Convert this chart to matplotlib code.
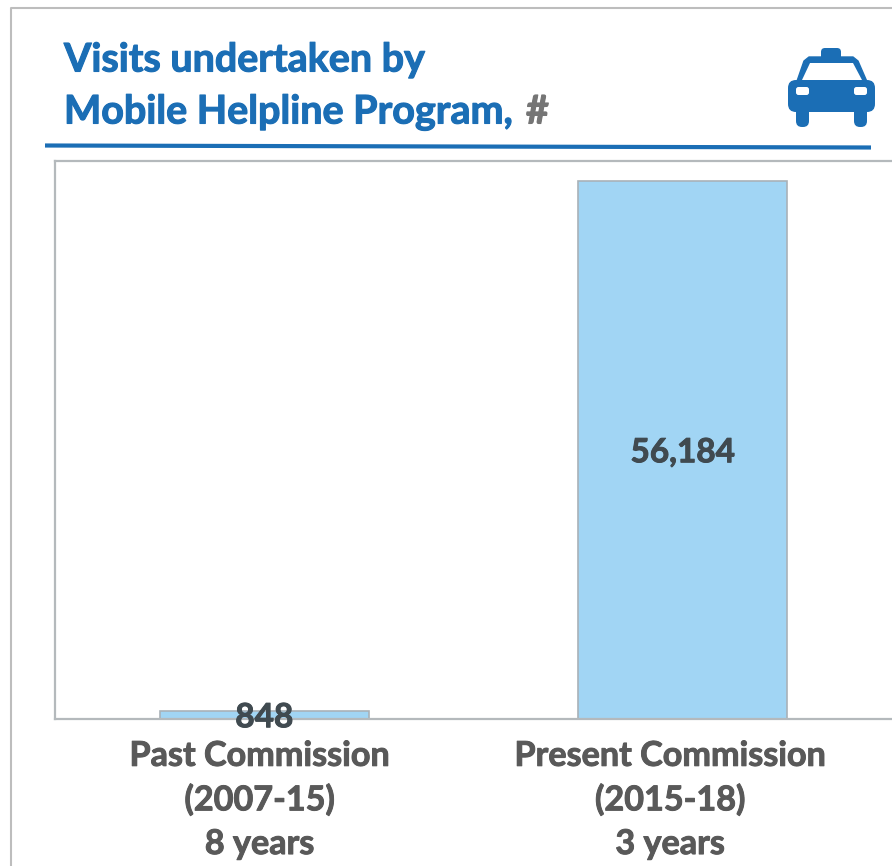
import matplotlib
matplotlib.use("Agg")
import matplotlib.pyplot as plt
import matplotlib.patheffects as pe
from matplotlib.patches import FancyBboxPatch, Polygon

categories = ["Past Commission\n(2007-15)\n8 years", "Present Commission\n(2015-18)\n3 years"]
values = [848, 56184]
value_labels = ["848", "56,184"]

BLUE = "#1B6EB5"
BAR = "#A1D5F4"
EDGE = "#A9B2B8"
GREY = "#595959"
FONT = "Lato"

def thick(color, w):
    return [pe.withStroke(linewidth=w, foreground=color)]

fig = plt.figure(figsize=(8.92, 8.66), dpi=100)

# page overlay in pixel coordinates (border, title, rule, icon)
pg = fig.add_axes([0, 0, 1, 1], zorder=0)
pg.set_xlim(0, 892); pg.set_ylim(866, 0); pg.axis("off")
pg.plot([11, 11, 892], [866, 8, 8], color="#BDBDBD", lw=1.5)
pg.plot([45, 871], [145.5, 147.5], color=BLUE, lw=3, solid_capstyle="butt")
pg.text(64, 60, "Visits undertaken by", color=BLUE, fontsize=28.4, fontweight="bold", family=FONT,
        va="center", ha="left", path_effects=thick(BLUE, 0.8))
pg.text(64, 112, "Mobile Helpline Program,", color=BLUE, fontsize=28.4, fontweight="bold", family=FONT,
        va="center", ha="left", path_effects=thick(BLUE, 0.8))
pg.text(526, 112, "#", color="#757575", fontsize=28.4, fontweight="bold", family=FONT,
        va="center", ha="left", path_effects=thick("#757575", 0.8))

def rr(x, y, w, h, r, color, z=3):
    pg.add_patch(FancyBboxPatch((x + r, y + r), w - 2 * r, h - 2 * r,
                                boxstyle=f"round,pad={r},rounding_size={r}",
                                fc=color, ec="none", zorder=z))
# taxi icon
rr(821, 48, 20, 16, 4, BLUE)
pg.add_patch(Polygon([[796, 84], [804, 61], [809, 57], [853, 57], [858, 61], [868, 84]],
                     closed=True, fc=BLUE, ec=BLUE, lw=1, joinstyle="round", zorder=3))
pg.add_patch(Polygon([[802, 80], [810, 63], [853, 63], [862, 80]], closed=True, fc="white", ec="none", zorder=4))
rr(788, 80, 87, 32, 8, BLUE)
rr(796, 104, 13, 23, 6, BLUE)
rr(854, 104, 13, 23, 6, BLUE)
rr(796, 87, 13, 8, 2.5, "white", 5)
rr(854, 87, 13, 8, 2.5, "white", 5)

# chart
ax = fig.add_axes([55 / 892, 1 - 719 / 866, (892 - 55) / 892, (719 - 161) / 866], zorder=2)
ax.patch.set_alpha(0)
x = list(range(len(values)))
ax.bar(x, values, width=0.5, color=BAR, edgecolor=EDGE, linewidth=1.2)
ax.set_xlim(-0.5, 1.5)
ax.set_ylim(0, 58270)
ax.set_yticks([])
ax.set_xticks([i + d for i, d in zip(x, [-0.011, -0.03])])
ax.set_xticklabels(categories, fontsize=24.6, fontweight="bold", family=FONT, color=GREY, linespacing=1.45,
                   path_effects=thick(GREY, 0.7))
ax.tick_params(axis="x", length=0, pad=15)
for s in ax.spines.values():
    s.set_color("#B4B9BC"); s.set_linewidth(1.6)
ax.spines["right"].set_visible(False)
for i, v, lab in zip(x, values, value_labels):
    t = ax.annotate(lab, (i, v / 2), xytext=(0, -2), textcoords="offset points", ha="center", va="center",
                    fontsize=24, fontweight="bold", family=FONT, color="#404A50", zorder=6,
                    annotation_clip=False)
    t.set_path_effects(thick("#404A50", 0.7))

fig.savefig("out.png", dpi=100)
